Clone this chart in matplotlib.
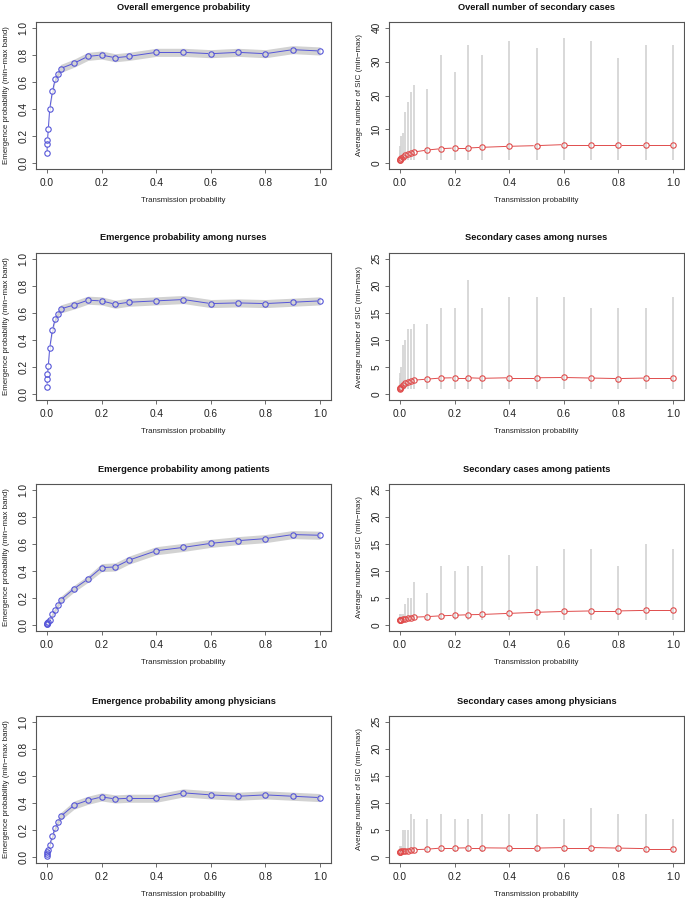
import matplotlib
matplotlib.use('Agg')
import matplotlib.pyplot as plt
import numpy as np

plt.rcParams['font.family'] = ['Liberation Sans', 'DejaVu Sans']

# transmission probabilities (x axis)
trans_prob = [0.0005, 0.001, 0.002, 0.005, 0.01, 0.02, 0.03, 0.04, 0.05, 0.1,
              0.15, 0.2, 0.25, 0.3, 0.4, 0.5, 0.6, 0.7, 0.8, 0.9, 1.0]

# emergence probabilities (mean, band low, band high)
emerg_overall = [0.07, 0.14, 0.17, 0.25, 0.40, 0.53, 0.62, 0.66, 0.70, 0.74,
                 0.79, 0.80, 0.78, 0.79, 0.82, 0.82, 0.81, 0.82, 0.81, 0.84, 0.83]
emerg_overall_lo = [0.06, 0.13, 0.16, 0.24, 0.385, 0.51, 0.60, 0.64, 0.67, 0.71,
                    0.76, 0.77, 0.75, 0.76, 0.79, 0.79, 0.78, 0.79, 0.78, 0.81, 0.80]
emerg_overall_hi = [0.08, 0.15, 0.18, 0.26, 0.415, 0.55, 0.64, 0.68, 0.73, 0.77,
                    0.82, 0.83, 0.81, 0.82, 0.85, 0.85, 0.84, 0.85, 0.84, 0.87, 0.86]

emerg_nurses = [0.055, 0.11, 0.145, 0.205, 0.34, 0.475, 0.555, 0.595, 0.63, 0.66,
                0.695, 0.69, 0.665, 0.68, 0.69, 0.70, 0.67, 0.675, 0.67, 0.68, 0.69]
emerg_nurses_lo = [0.045, 0.10, 0.135, 0.195, 0.325, 0.455, 0.535, 0.575, 0.60, 0.63,
                   0.665, 0.66, 0.635, 0.65, 0.66, 0.67, 0.64, 0.645, 0.64, 0.65, 0.66]
emerg_nurses_hi = [0.065, 0.12, 0.155, 0.215, 0.355, 0.495, 0.575, 0.615, 0.66, 0.69,
                   0.725, 0.72, 0.695, 0.71, 0.72, 0.73, 0.70, 0.705, 0.70, 0.71, 0.72]

emerg_patients = [0.005, 0.008, 0.012, 0.02, 0.04, 0.08, 0.11, 0.15, 0.185, 0.27,
                  0.34, 0.425, 0.43, 0.48, 0.55, 0.575, 0.605, 0.625, 0.64, 0.67, 0.665]
emerg_patients_lo = [0.0, 0.002, 0.005, 0.012, 0.028, 0.065, 0.093, 0.13, 0.16, 0.245,
                     0.315, 0.395, 0.40, 0.45, 0.52, 0.545, 0.575, 0.595, 0.61, 0.64, 0.635]
emerg_patients_hi = [0.01, 0.014, 0.019, 0.028, 0.052, 0.095, 0.127, 0.17, 0.21, 0.295,
                     0.365, 0.455, 0.46, 0.51, 0.58, 0.605, 0.635, 0.655, 0.67, 0.70, 0.695]

emerg_physicians = [0.01, 0.025, 0.035, 0.055, 0.09, 0.155, 0.215, 0.26, 0.30, 0.385,
                    0.42, 0.445, 0.43, 0.435, 0.435, 0.475, 0.46, 0.45, 0.46, 0.45, 0.44]
emerg_physicians_lo = [0.004, 0.018, 0.027, 0.045, 0.076, 0.138, 0.195, 0.238, 0.272, 0.355,
                       0.39, 0.415, 0.40, 0.405, 0.405, 0.445, 0.43, 0.42, 0.43, 0.42, 0.41]
emerg_physicians_hi = [0.016, 0.032, 0.043, 0.065, 0.104, 0.172, 0.235, 0.282, 0.328, 0.415,
                       0.45, 0.475, 0.46, 0.465, 0.465, 0.505, 0.49, 0.48, 0.49, 0.48, 0.47]

# secondary infection cases (mean, min, max)
sic_overall = [1.0, 1.1, 1.3, 1.6, 1.9, 2.3, 2.6, 2.9, 3.3, 3.9,
               4.3, 4.5, 4.5, 4.7, 5.0, 5.2, 5.5, 5.5, 5.5, 5.5, 5.5]
sic_overall_min = [1] * 21
sic_overall_max = [3, 4, 5, 8, 9, 15, 18, 21, 23, 22,
                   32, 27, 35, 32, 36, 34, 37, 36, 31, 35, 35]

sic_nurses = [1.05, 1.1, 1.2, 1.4, 1.7, 2.0, 2.2, 2.4, 2.6, 2.8,
              3.0, 3.05, 3.05, 2.95, 3.05, 3.05, 3.1, 3.0, 2.9, 3.0, 3.0]
sic_nurses_min = [1] * 21
sic_nurses_max = [2, 3, 4, 5, 9, 10, 12, 12, 13, 13,
                  16, 16, 21, 16, 18, 18, 18, 16, 16, 16, 18]

sic_patients = [1.0, 1.0, 1.0, 1.05, 1.1, 1.2, 1.3, 1.4, 1.5, 1.6,
                1.75, 1.85, 1.95, 2.0, 2.2, 2.4, 2.55, 2.65, 2.65, 2.75, 2.75]
sic_patients_min = [1] * 21
sic_patients_max = [1, 2, 2, 2, 2, 4, 5, 5, 8, 6,
                    11, 10, 11, 11, 13, 11, 14, 14, 11, 15, 14]

sic_physicians = [1.0, 1.0, 1.05, 1.1, 1.15, 1.2, 1.25, 1.3, 1.4, 1.5,
                  1.7, 1.7, 1.75, 1.75, 1.7, 1.7, 1.8, 1.8, 1.7, 1.6, 1.6]
sic_physicians_min = [1] * 21
sic_physicians_max = [1, 1, 2, 2, 5, 5, 5, 8, 7, 7,
                      8, 7, 7, 8, 8, 8, 7, 9, 8, 8, 7]

left_titles = ['Overall emergence probability', 'Emergence probability among nurses',
               'Emergence probability among patients', 'Emergence probability among physicians']
right_titles = ['Overall number of secondary cases', 'Secondary cases among nurses',
                'Secondary cases among patients', 'Secondary cases among physicians']

emerg = [(emerg_overall, emerg_overall_lo, emerg_overall_hi),
         (emerg_nurses, emerg_nurses_lo, emerg_nurses_hi),
         (emerg_patients, emerg_patients_lo, emerg_patients_hi),
         (emerg_physicians, emerg_physicians_lo, emerg_physicians_hi)]
sic = [(sic_overall, sic_overall_min, sic_overall_max),
       (sic_nurses, sic_nurses_min, sic_nurses_max),
       (sic_patients, sic_patients_min, sic_patients_max),
       (sic_physicians, sic_physicians_min, sic_physicians_max)]

W, H = 685, 900
fig = plt.figure(figsize=(W / 100, H / 100), dpi=100)

BLUE = '#5555d8'
RED = '#e04c4c'
TXT = '#222222'
LAB = 5.7


def style_axes(ax, yticks, ylim):
    ax.set_xlim(-0.04, 1.04)
    ax.set_ylim(*ylim)
    ax.set_xticks([0, 0.2, 0.4, 0.6, 0.8, 1.0])
    ax.set_xticklabels(['0.0', '0.2', '0.4', '0.6', '0.8', '1.0'])
    ax.set_yticks(yticks)
    for s in ax.spines.values():
        s.set_color('#555555')
        s.set_linewidth(0.8)
    ax.tick_params(direction='out', length=2.8, width=0.6, color='#555555',
                   labelsize=7.3, labelcolor=TXT)
    ax.tick_params(axis='x', pad=3.5)
    ax.tick_params(axis='y', pad=2.5)
    for lab in ax.get_yticklabels():
        lab.set_rotation(90)
        lab.set_va('center')
    ax.set_xlabel('Transmission probability', fontsize=LAB, color=TXT, labelpad=7)


def type_b(ax, x, y, color, gap=3.3, ms=3.9):
    # R style type="b": lines with gaps around the points
    pts = ax.transData.transform(np.column_stack([x, y]))
    inv = ax.transData.inverted()
    for p0, p1 in zip(pts[:-1], pts[1:]):
        d = p1 - p0
        n = np.hypot(*d)
        if n <= 2 * gap:
            continue
        u = d / n
        a = inv.transform(p0 + u * gap)
        b = inv.transform(p1 - u * gap)
        ax.plot([a[0], b[0]], [a[1], b[1]], color=color, lw=0.7, zorder=3)
    ax.plot(x, y, 'o', ms=ms, mfc='none', mec=color, mew=0.8, zorder=4)


lx0, rx0, aw = 36 / W, 389 / W, 295 / W
ah = 147 / H
bottoms = [169, 400, 631, 863]

for i in range(4):
    y0 = 1 - bottoms[i] / H
    # left: emergence probability
    ax = fig.add_axes([lx0, y0, aw, ah])
    style_axes(ax, [0, 0.2, 0.4, 0.6, 0.8, 1.0], (-0.045, 1.045))
    ax.set_yticklabels(['0.0', '0.2', '0.4', '0.6', '0.8', '1.0'])
    for lab in ax.get_yticklabels():
        lab.set_rotation(90)
        lab.set_va('center')
    m, lo, hi = emerg[i]
    ax.fill_between(trans_prob, lo, hi, color='#d2d2d2', lw=0, zorder=1)
    type_b(ax, trans_prob, m, BLUE)
    ax.set_ylabel('Emergence probability (min\u2212max band)', fontsize=LAB,
                  color=TXT, labelpad=6)
    ax.set_title(left_titles[i], fontsize=6.7, fontweight='bold', pad=9, color='#111111')

    # right: secondary cases
    ax = fig.add_axes([rx0, y0, aw, ah])
    if i == 0:
        style_axes(ax, [0, 10, 20, 30, 40], (-1.7, 41.7))
    else:
        style_axes(ax, [0, 5, 10, 15, 20, 25], (-1.05, 26.05))
    m, mn, mx = sic[i]
    ax.vlines(trans_prob, mn, mx, color='#d2d2d2', lw=1.2, zorder=1)
    type_b(ax, trans_prob, m, RED)
    ax.set_ylabel('Average number of SIC (min\u2212max)', fontsize=LAB,
                  color=TXT, labelpad=6)
    ax.set_title(right_titles[i], fontsize=6.7, fontweight='bold', pad=9, color='#111111')

fig.savefig('out.png', dpi=100)
